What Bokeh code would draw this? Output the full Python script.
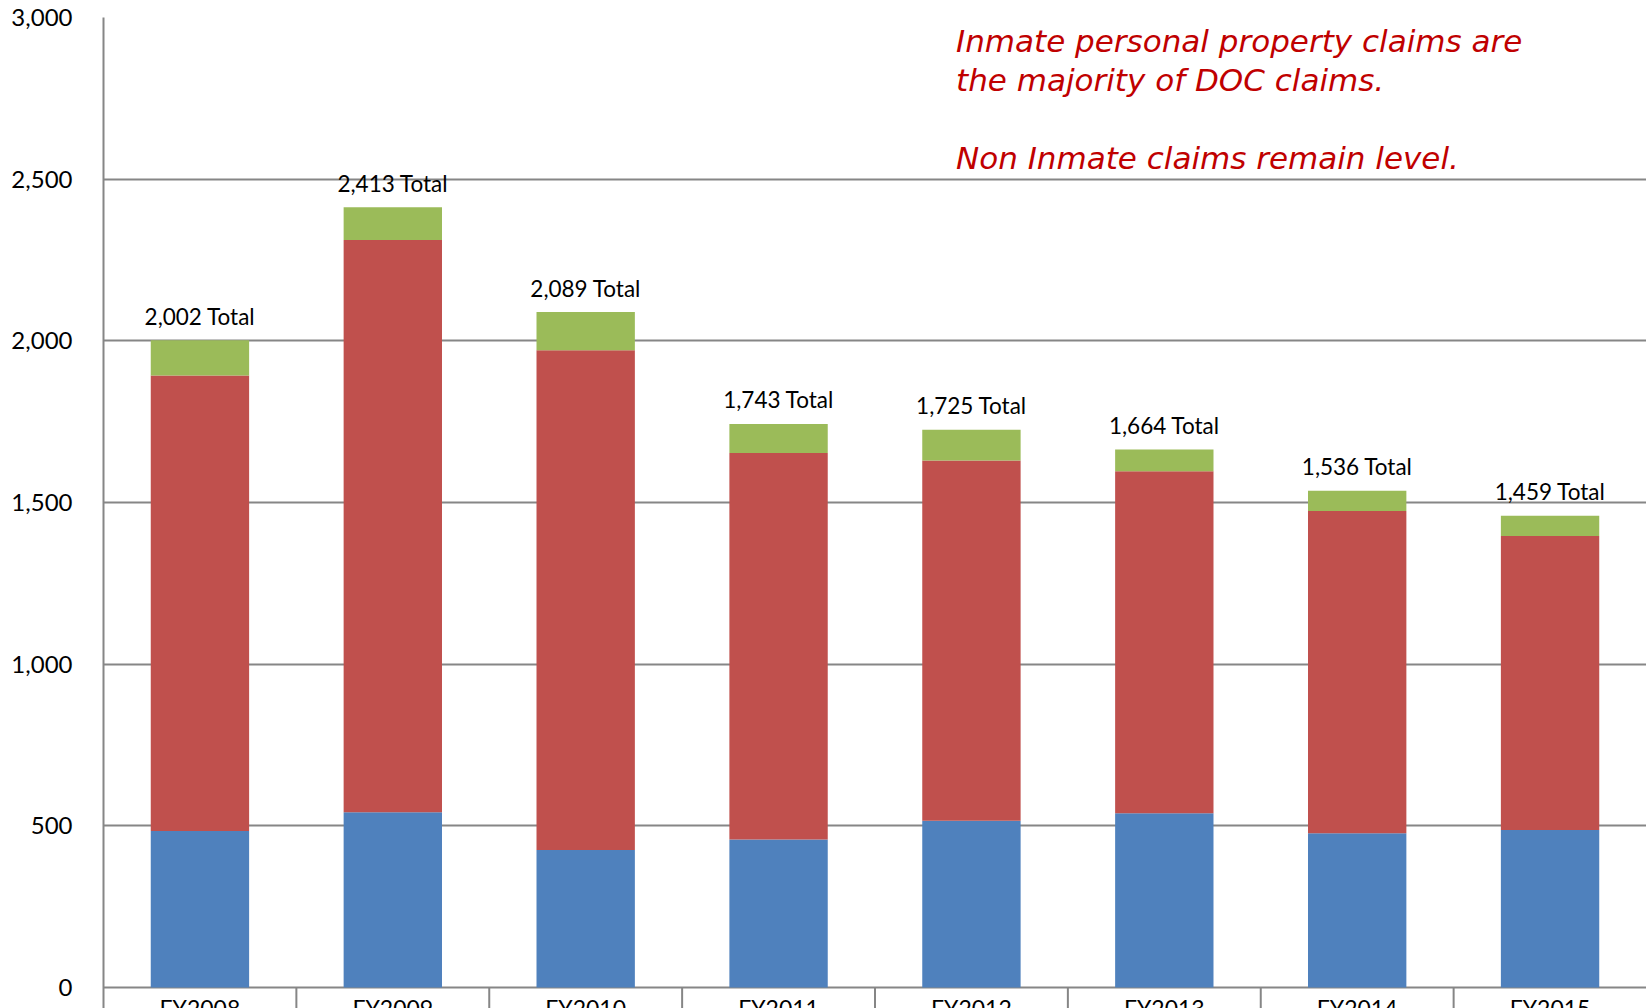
from bokeh.plotting import figure
from bokeh.models import Range1d, FactorRange, NumeralTickFormatter, ColumnDataSource, Label
from bokeh.embed import file_html
from bokeh.resources import INLINE
from bokeh.core.properties import value

years = ["FY2008", "FY2009", "FY2010", "FY2011", "FY2012", "FY2013", "FY2014", "FY2015"]
non_inmate = [484, 542, 425, 458, 516, 539, 477, 487]
inmate_property = [1409, 1770, 1546, 1195, 1114, 1058, 997, 909]
inmate_other = [109, 101, 118, 90, 95, 67, 62, 63]
totals = [a + b + c for a, b, c in zip(non_inmate, inmate_property, inmate_other)]
total_labels = [f"{t:,} Total" for t in totals]
y_ticks = [0, 500, 1000, 1500, 2000, 2500, 3000]
notes = ["Inmate personal property claims are",
         "the majority of DOC claims.",
         "",
         "Non Inmate claims remain level."]

colors = ["#4F81BD", "#C0504D", "#9BBB59"]
grid_color = "#868686"

src = ColumnDataSource(dict(year=years, non_inmate=non_inmate, inmate_property=inmate_property,
                            inmate_other=inmate_other, total=totals, label=total_labels,
                            zero=[0] * len(years)))

p = figure(x_range=FactorRange(factors=years), y_range=Range1d(-65, 3000),
           width=1646, height=1008, output_backend="svg", toolbar_location=None,
           x_axis_location=None, min_border_left=103, min_border_top=17,
           min_border_bottom=0, min_border_right=0)
p.outline_line_color = None
p.background_fill_color = "white"

p.vbar_stack(["non_inmate", "inmate_property", "inmate_other"], x="year", width=0.51,
             color=colors, line_color=None, source=src)

# total labels
p.text(x="year", y="total", text="label", source=src, text_align="center",
       text_baseline="alphabetic", y_offset=-24, text_font=value("Lato"),
       text_font_size="22.5px", text_color="black")

# category axis: tick marks between categories and labels below zero
bounds = [(y, -0.5) for y in years[1:]]
p.segment(x0=bounds, y0=[0] * len(bounds), x1=bounds, y1=[p.y_range.start] * len(bounds),
          line_color=grid_color, line_width=2)
p.text(x="year", y="zero", text="year", source=src, text_align="center",
       text_baseline="top", y_offset=7, text_font=value("Lato"),
       text_font_size="23px", text_color="black")

# y axis
p.yaxis.ticker = y_ticks
p.yaxis.formatter = NumeralTickFormatter(format="0,0")
p.yaxis.major_tick_in = 0
p.yaxis.major_tick_out = 0
p.yaxis.minor_tick_in = 0
p.yaxis.minor_tick_out = 0
p.yaxis.axis_line_color = grid_color
p.yaxis.axis_line_width = 2
p.yaxis.major_label_standoff = 31
p.yaxis.major_label_text_font = "Lato"
p.yaxis.major_label_text_font_size = "24px"
p.yaxis.major_label_text_color = "black"

p.xgrid.visible = False
p.ygrid.ticker = y_ticks
p.ygrid.grid_line_color = grid_color
p.ygrid.grid_line_width = 2

# annotation text
note_y = [2926, 2808, 2688, 2567]
for txt, yy in zip(notes, note_y):
    if txt:
        p.add_layout(Label(x=4.42, y=yy, text=txt, text_font="DejaVu Sans",
                           text_font_style="italic", text_font_size="31px",
                           text_color="#C00000", text_baseline="alphabetic"))

open("out.html", "w").write(file_html(p, INLINE))
